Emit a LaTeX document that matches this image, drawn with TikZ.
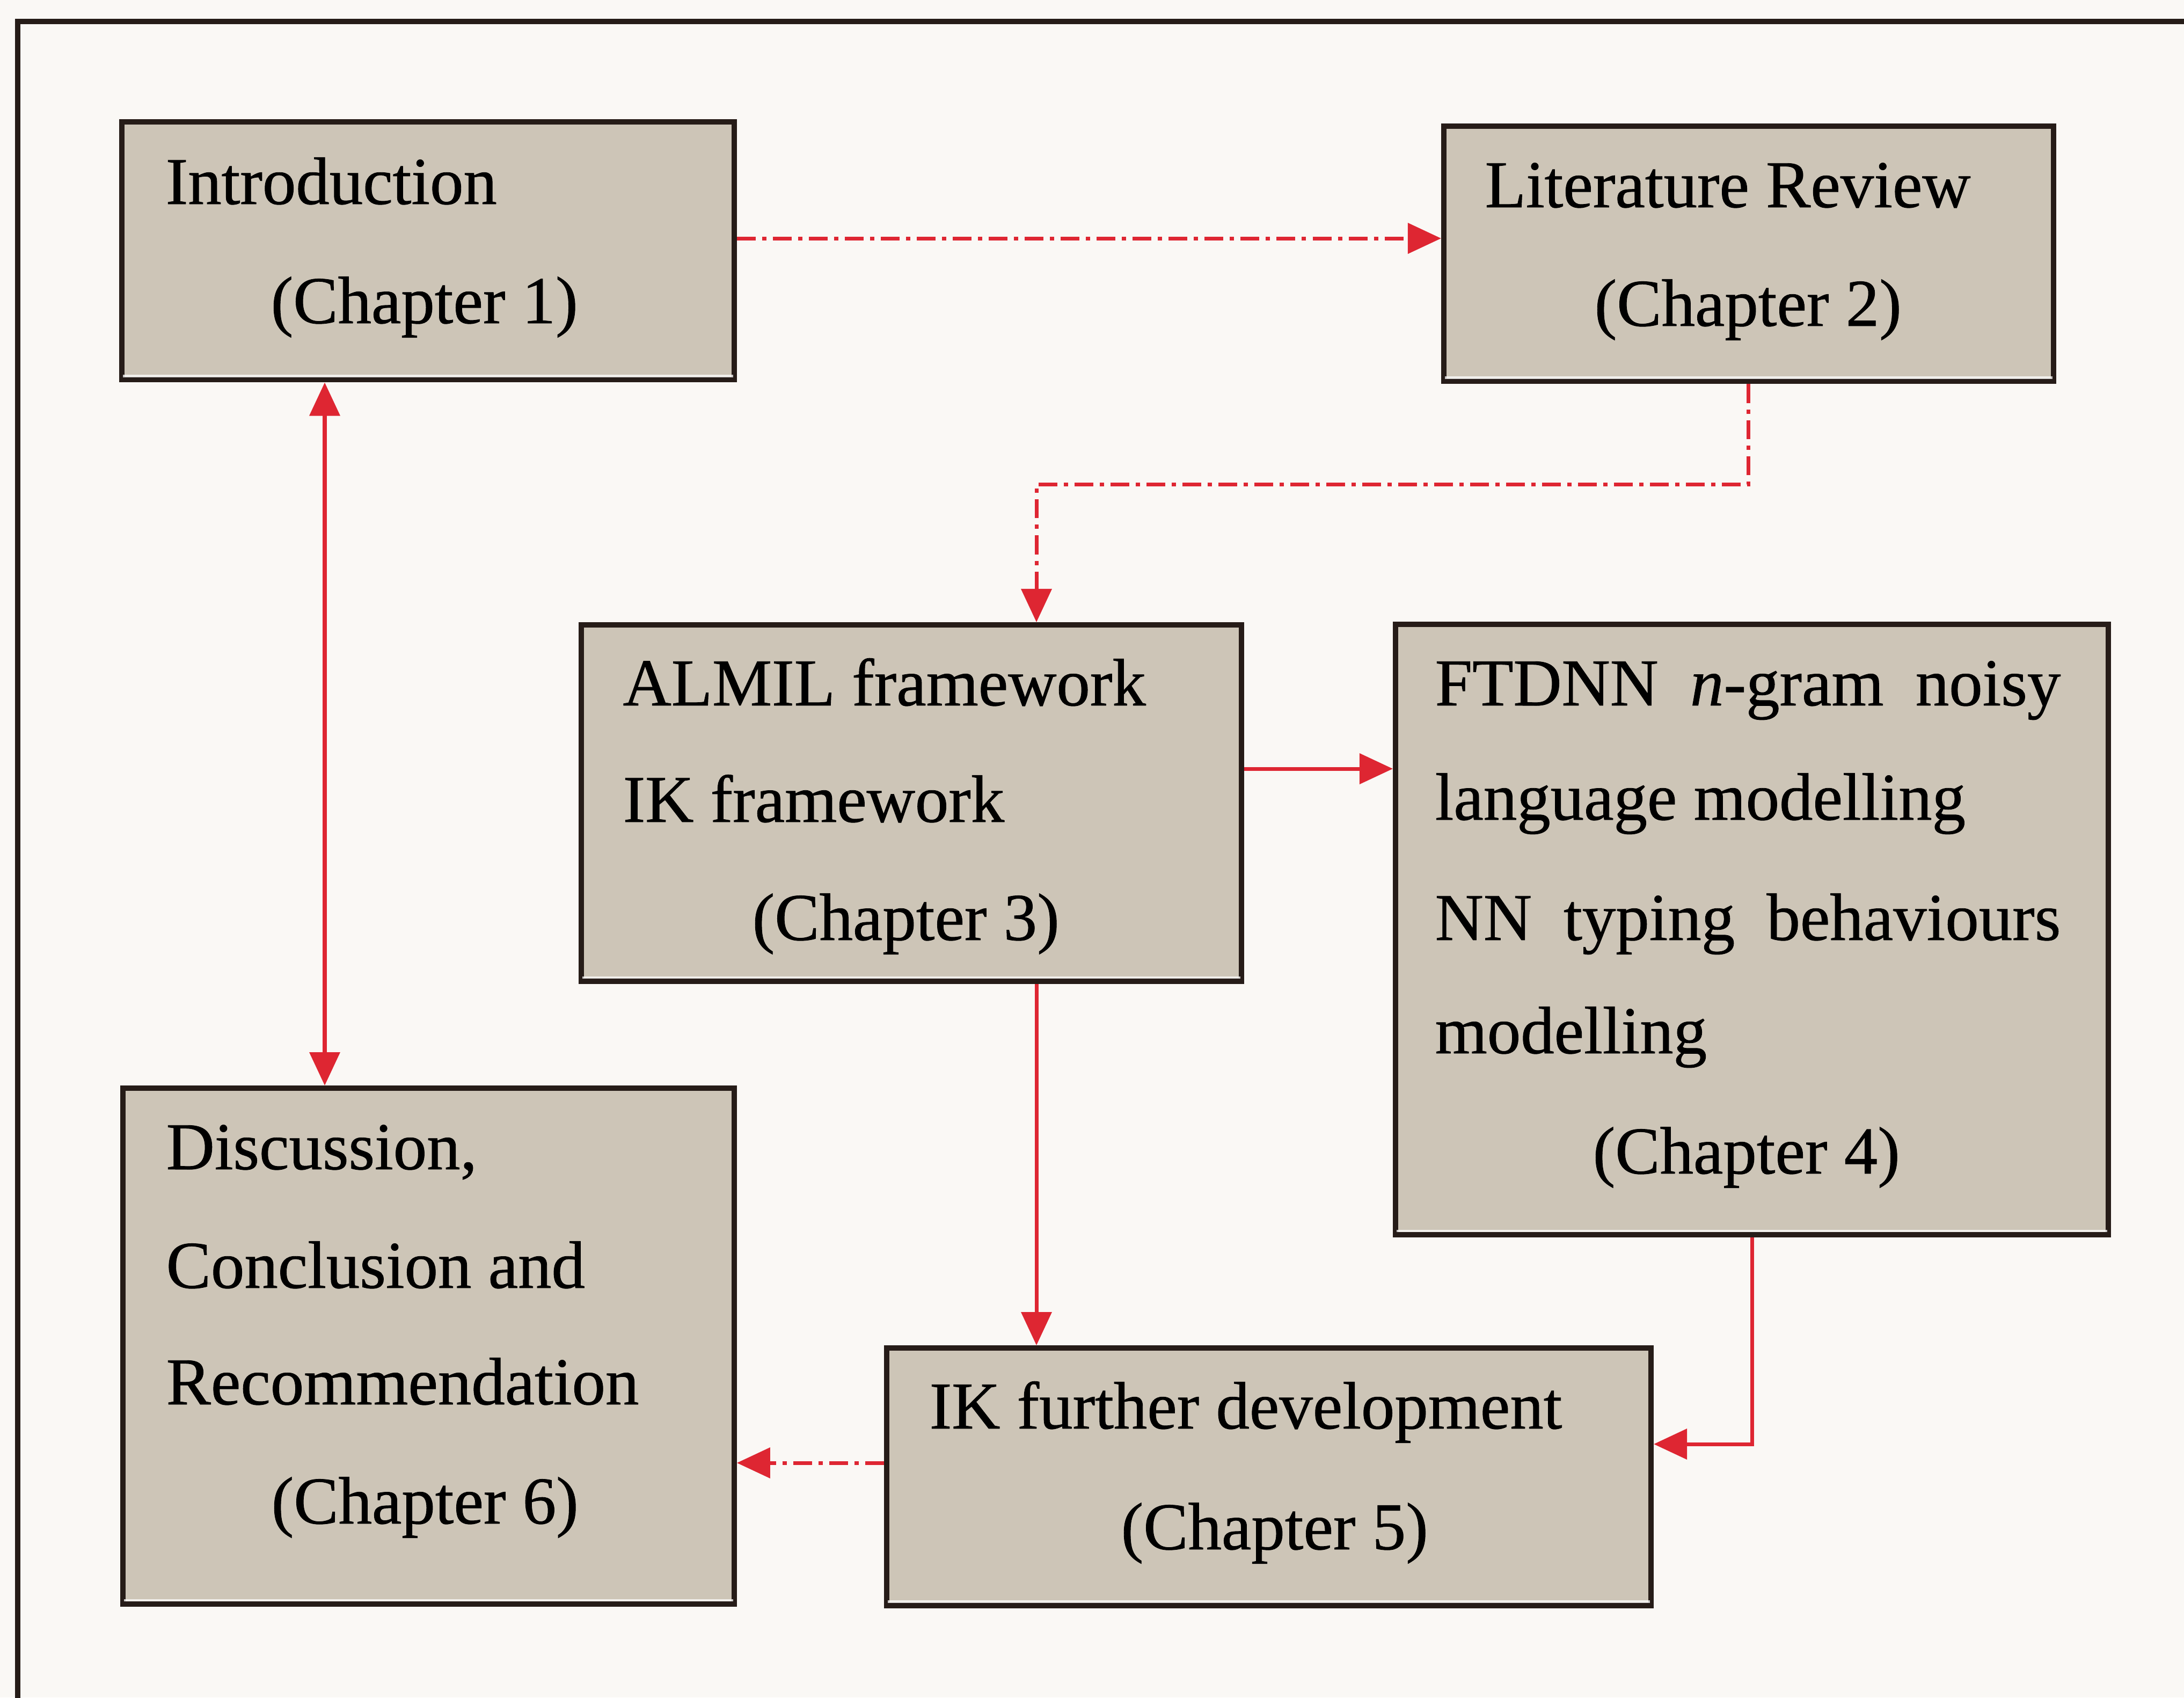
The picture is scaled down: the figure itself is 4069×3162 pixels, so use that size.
\documentclass[tikz,border=0pt]{standalone}
\usepackage{fontspec}
\setmainfont{Liberation Serif}[FakeBold=0.7]
\usetikzlibrary{arrows.meta}

\definecolor{pagebg}{RGB}{250,248,245}
\definecolor{boxfill}{RGB}{205,197,183}
\definecolor{boxline}{RGB}{38,28,24}
\definecolor{linkred}{RGB}{222,38,50}

\tikzset{
  chapbox/.style={draw=boxline, line width=2.9pt, fill=boxfill, inner sep=0pt,
    anchor=north west, rectangle},
  chaptext/.style={anchor=base west, inner sep=0pt, text=black,
    font=\fontsize{35.5}{40}\selectfont},
  link/.style={draw=linkred, line width=2pt,
    -{Triangle[length=0.62cm,width=0.56cm]}},
  duallink/.style={draw=linkred, line width=2pt,
    {Triangle[length=0.62cm,width=0.56cm]}-{Triangle[length=0.62cm,width=0.56cm]}},
  dashdot/.style={dash pattern=on 0.35cm off 0.12cm on 0.08cm off 0.12cm},
  frameline/.style={draw=boxline, line width=2.8pt},
  sheen/.style={draw=white, line width=1.2pt, opacity=0.75}
}

\newcommand{\boxsheen}[1]{%
  \draw[sheen] ([xshift=0.07cm,yshift=0.12cm]#1.south west) -- ([xshift=-0.07cm,yshift=0.12cm]#1.south east);}

\begin{document}
\begin{tikzpicture}[x=0.01cm,y=-0.01cm]
  % page and outer frame
  \fill[pagebg] (0,0) rectangle (4069,3162);
  \useasboundingbox (0,0) rectangle (4069,3162);
  \draw[frameline] (33,3175) -- (33,40) -- (4080,40);

  % chapter boxes
  \node[chapbox, minimum width=11.40cm, minimum height=4.80cm] (intro) at (222,222) {};
  \node[chapbox, minimum width=11.35cm, minimum height=4.75cm] (lit)   at (2685,230) {};
  \node[chapbox, minimum width=12.29cm, minimum height=6.63cm] (almil) at (1078,1159) {};
  \node[chapbox, minimum width=13.27cm, minimum height=11.36cm] (ftdnn) at (2595,1158) {};
  \node[chapbox, minimum width=11.38cm, minimum height=9.60cm] (disc)  at (224,2022) {};
  \node[chapbox, minimum width=14.23cm, minimum height=4.79cm] (ikf)   at (1647,2506) {};

  \boxsheen{intro}
  \boxsheen{lit}
  \boxsheen{almil}
  \boxsheen{ftdnn}
  \boxsheen{disc}
  \boxsheen{ikf}

  % box texts
  \node[chaptext] (intro-a) at (308,380) {Introduction};
  \node[chaptext] (intro-b) at (504,602) {(Chapter 1)};

  \node[chaptext] (lit-a) at (2766,386) {Literature Review};
  \node[chaptext] (lit-b) at (2970,607) {(Chapter 2)};

  \node[chaptext] (almil-a) at (1160,1314) {ALMIL framework};
  \node[chaptext] (almil-b) at (1160,1531) {IK framework};
  \node[chaptext] (almil-c) at (1401,1751) {(Chapter 3)};

  \node[chaptext] (ftdnn-a) at (2673,1314) {\makebox[11.65cm][s]{FTDNN \textit{n}-gram noisy}};
  \node[chaptext] (ftdnn-b) at (2673,1527) {language modelling};
  \node[chaptext] (ftdnn-c) at (2673,1751) {\makebox[11.65cm][s]{NN typing behaviours}};
  \node[chaptext] (ftdnn-d) at (2673,1962) {modelling};
  \node[chaptext] (ftdnn-e) at (2967,2186) {(Chapter 4)};

  \node[chaptext] (disc-a) at (309,2178) {Discussion,};
  \node[chaptext] (disc-b) at (309,2399) {Conclusion and};
  \node[chaptext] (disc-c) at (309,2616) {Recommendation};
  \node[chaptext] (disc-d) at (505,2838) {(Chapter 6)};

  \node[chaptext] (ikf-a) at (1731,2661) {IK further development};
  \node[chaptext] (ikf-b) at (2088,2886) {(Chapter 5)};

  % routing coordinates
  \coordinate (rowA) at (0,444);
  \coordinate (bendA) at (1931,902);
  \coordinate (colB) at (605,0);
  \coordinate (rowC) at (0,1432);
  \coordinate (rowD) at (0,2690);
  \coordinate (rowE) at (0,2725);

  % connectors
  \draw[link, dashdot] (intro.east |- rowA) -- (lit.west |- rowA);
  \draw[link, dashdot] (lit.south) |- (bendA) -- (almil.north -| bendA);
  \draw[duallink] (intro.south -| colB) -- (disc.north -| colB);
  \draw[link] (almil.east |- rowC) -- (ftdnn.west |- rowC);
  \draw[link] (almil.south -| bendA) -- (ikf.north -| bendA);
  \draw[link] (ftdnn.south) |- (ikf.east |- rowD);
  \draw[link, dashdot] (ikf.west |- rowE) -- (disc.east |- rowE);
\end{tikzpicture}
\end{document}
